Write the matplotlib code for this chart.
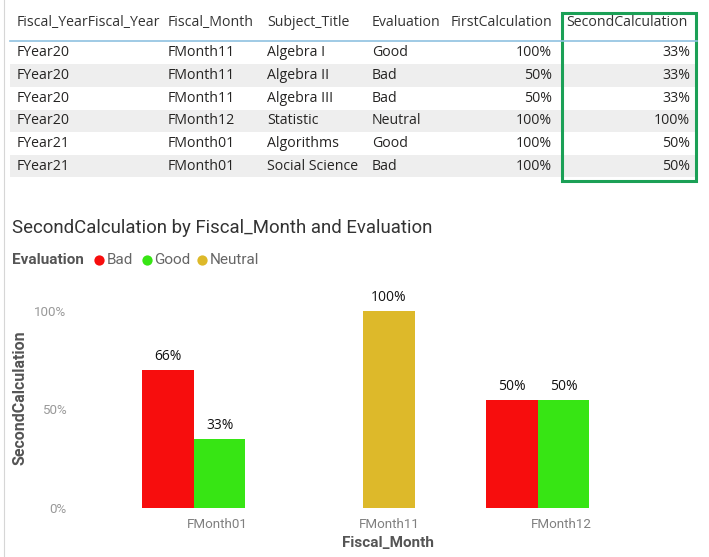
import matplotlib
matplotlib.use("Agg")
import matplotlib.pyplot as plt
from matplotlib.patches import Rectangle
from matplotlib.lines import Line2D

# ---------------- data ----------------
table_columns = ["Fiscal_YearFiscal_Year", "Fiscal_Month", "Subject_Title",
                 "Evaluation", "FirstCalculation", "SecondCalculation"]
fiscal_year = ["FYear20", "FYear20", "FYear20", "FYear20", "FYear21", "FYear21"]
fiscal_month = ["FMonth11", "FMonth11", "FMonth11", "FMonth12", "FMonth01", "FMonth01"]
subject_title = ["Algebra I", "Algebra II", "Algebra III", "Statistic", "Algorithms", "Social Science"]
evaluation = ["Good", "Bad", "Bad", "Neutral", "Good", "Bad"]
first_calc = ["100%", "50%", "50%", "100%", "100%", "100%"]
second_calc = ["33%", "33%", "33%", "100%", "50%", "50%"]

chart_title = "SecondCalculation by Fiscal_Month and Evaluation"
months = ["FMonth01", "FMonth11", "FMonth12"]
eval_levels = ["Bad", "Good", "Neutral"]
eval_colors = ["#F70D0D", "#37E514", "#DDB92A"]
bar_month = ["FMonth01", "FMonth01", "FMonth11", "FMonth12", "FMonth12"]
bar_eval = ["Bad", "Good", "Neutral", "Bad", "Good"]
bar_height = [0.70, 0.35, 1.00, 0.55, 0.55]
bar_label = ["66%", "33%", "100%", "50%", "50%"]
yticks = [0.0, 0.5, 1.0]
ytick_labels = ["0%", "50%", "100%"]

# ---------------- layout ----------------
W, H = 709, 557
fig = plt.figure(figsize=(W / 100, H / 100), dpi=100)
fig.patch.set_facecolor("white")

def P(x, y):
    return (x / W, 1 - y / H)

TABLE_FONT = ["Open Sans", "DejaVu Sans"]
CHART_FONT = ["Roboto", "DejaVu Sans"]
txt_col = "#252423"

# left border line
fig.add_artist(Line2D([4 / W, 4 / W], [0, 1], color="#D6D6D6", lw=0.8))

# table
row_y = [53 + 22.6 * i for i in range(6)]
row_h = 22.6
for i, y in enumerate(row_y):
    if i % 2 == 1:
        x0, y0 = P(10, y + row_h / 2)
        fig.add_artist(Rectangle((x0, y0), (697 - 10) / W, row_h / H,
                                 transform=fig.transFigure, facecolor="#EEEEEE",
                                 edgecolor="none"))
col_x = [17, 168, 267, 372, 552, 690]
col_ha = ["left", "left", "left", "left", "right", "right"]
hdr_x = [17, 168, 267, 372, 552, 688]
for cx, ha, name in zip(hdr_x, col_ha, table_columns):
    fig.text(*P(cx, 22), name, ha=ha, va="center", fontsize=10.2,
             family=TABLE_FONT, color="#333333")
fig.add_artist(Line2D([10 / W, 697 / W], [1 - 41 / H, 1 - 41 / H],
                      color="#8FC1E0", lw=1.2))
columns = [fiscal_year, fiscal_month, subject_title, evaluation, first_calc, second_calc]
for cx, ha, col in zip(col_x, col_ha, columns):
    for y, val in zip(row_y, col):
        fig.text(*P(cx, y), val, ha=ha, va="center", fontsize=10.2,
                 family=TABLE_FONT, color=txt_col)
# highlight box
bx0, by0 = P(562, 181)
fig.add_artist(Rectangle((bx0, by0), (696 - 562) / W, (181 - 13) / H,
                         transform=fig.transFigure, facecolor="none",
                         edgecolor="#1BA056", lw=2.2))

# chart title & legend
fig.text(*P(12, 228), chart_title, ha="left", va="center", fontsize=13.4,
         family=CHART_FONT, color="#333333")
fig.text(*P(12, 260), "Evaluation", ha="left", va="center", fontsize=11,
         family=CHART_FONT, color="#555555", fontweight="bold")
leg_x = [99, 147, 202]
for lx, name, c in zip(leg_x, eval_levels, eval_colors):
    mx, my = P(lx, 260)
    fig.add_artist(Line2D([mx], [my], marker="o", markersize=7.4, color=c,
                          markeredgewidth=0, linestyle="none"))
    fig.text(*P(lx + 7.5, 260), name, ha="left", va="center", fontsize=11,
             family=CHART_FONT, color="#666666")

# axes
ax_left, ax_right, ax_bottom, ax_top = 75, 700, 508, 311
ax = fig.add_axes([ax_left / W, 1 - ax_bottom / H, (ax_right - ax_left) / W,
                   (ax_bottom - ax_top) / H])
unit = 172.0
tick0 = 217.0
ax.set_xlim((ax_left - tick0) / unit, (ax_right - tick0) / unit)
ax.set_ylim(0, 1)
for s in ax.spines.values():
    s.set_visible(False)
ax.set_facecolor("none")

bw = 0.30
color_of = dict(zip(eval_levels, eval_colors))
for i, m in enumerate(months):
    idx = [k for k, bm in enumerate(bar_month) if bm == m]
    n = len(idx)
    shift = -0.135 if n == 2 else 0.0
    for j, k in enumerate(idx):
        xc = i + shift + (j - (n - 1) / 2) * bw
        ax.bar(xc, bar_height[k], width=bw, color=color_of[bar_eval[k]], linewidth=0)
        ax.annotate(bar_label[k], (xc, bar_height[k]), xytext=(0, 9.5),
                    textcoords="offset points", ha="center", va="center",
                    fontsize=10, family=TABLE_FONT, color="#111111",
                    annotation_clip=False)

ax.set_xticks(range(len(months)))
ax.set_xticklabels(months, family=CHART_FONT, fontsize=9.6, color="#808080")
ax.set_yticks(yticks)
ax.set_yticklabels(ytick_labels, family=CHART_FONT, fontsize=9.6, color="#999999")
ax.tick_params(axis="both", length=0)
ax.tick_params(axis="x", pad=7)
ax.tick_params(axis="y", pad=6)

ax.set_ylabel("SecondCalculation", family=CHART_FONT, fontsize=11.5,
              color="#555555", fontweight="bold")
ax.yaxis.set_label_coords((20 - ax_left) / (ax_right - ax_left),
                          (ax_bottom - 398) / (ax_bottom - ax_top))
ax.set_xlabel("Fiscal_Month", family=CHART_FONT, fontsize=11,
              color="#555555", fontweight="bold")
ax.xaxis.set_label_coords((388 - ax_left) / (ax_right - ax_left),
                          (ax_bottom - 543) / (ax_bottom - ax_top))
ax.xaxis.label.set_va("center")
ax.yaxis.label.set_va("center")

fig.savefig("out.png", dpi=100, facecolor="white")
